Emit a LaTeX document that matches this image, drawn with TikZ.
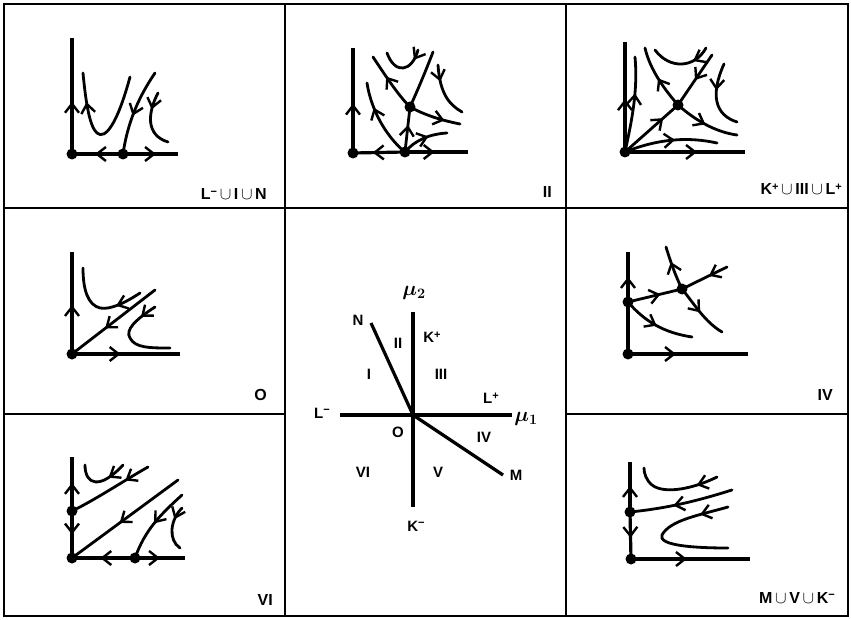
\documentclass[tikz,border=0pt]{standalone}
\usepackage{bm}
\usepackage{fontspec}
\setmainfont{Liberation Sans}
\usetikzlibrary{arrows.meta,decorations.markings}

\tikzset{
  frame/.style={line width=2pt},
  axis/.style={line width=3.2pt},
  flow/.style={line width=2.8pt, line cap=round},
  fix/.style={fill, circle, inner sep=0pt, minimum size=11pt},
  arr/.style={postaction={decorate, decoration={markings,
      mark=at position #1 with {\arrow{Straight Barb[length=9pt,width=14pt,line width=2.4pt]}}}}},
  tag/.style={font=\bfseries\fontsize{16}{16}\selectfont, anchor=base east, inner sep=0pt},
  lbl/.style={font=\bfseries\fontsize{15}{15}\selectfont, inner sep=0pt},
  greek/.style={font=\fontsize{20}{20}\selectfont, inner sep=0pt},
}
\newcommand{\cupp}{\,$\cup$\,}
\newcommand{\sgn}[1]{\raisebox{0.55ex}{\fontsize{11}{11}\selectfont\bfseries #1}}

\begin{document}
\begin{tikzpicture}[x=1pt, y=-1pt]
  \useasboundingbox (0,0) rectangle (851,620);
  \draw[frame] (4,4) rectangle (848,616);
  \draw[frame] (285,4) -- (285,616);
  \draw[frame] (566,4) -- (566,616);
  \draw[frame] (4,208) -- (848,208);
  \draw[frame] (4,414) -- (285,414);
  \draw[frame] (566,414) -- (848,414);

  % L- u I u N
  \node[fix] (a0) at (72,154) {};
  \node[fix] (a1) at (123,154) {};
  \draw[axis, arr=0.45] (a0.center) -- (72,38);
  \draw[axis, arr=0.55] (a1.center) -- (a0.center);
  \draw[axis, arr=0.6] (a1.center) -- (178,154);
  \draw[flow, arr=0.78] (130,77) .. controls (117,125) and (105,140) .. (97,133)
    .. controls (90,127) and (86,105) .. (83,73);
  \draw[flow, arr=0.55] (155,73) .. controls (140,95) and (128,120) .. (a1.center);
  \draw[flow, arr=0.3] (158,93) .. controls (148,112) and (145,135) .. (168,142);
  \node[tag] (t1) at (267,200) {L\sgn{−}\cupp I\cupp N};

  % II
  \node[fix] (b0) at (353,153) {};
  \node[fix] (b1) at (405,152) {};
  \node[fix] (b2) at (410,107) {};
  \draw[axis, arr=0.47] (b0.center) -- (353,48);
  \draw[axis, arr=0.62] (b1.center) -- (b0.center);
  \draw[axis, arr=0.47] (b1.center) -- (468,152);
  \draw[flow, arr=0.6] (b1.center) -- (b2.center);
  \draw[flow] (b2.center) .. controls (420,85) and (428,65) .. (433,52);
  \draw[flow, arr=0.62] (b2.center) .. controls (398,95) and (385,75) .. (373,57);
  \draw[flow, arr=0.7] (b2.center) .. controls (425,115) and (440,120) .. (460,124);
  \draw[flow, arr=0.22] (418,50) .. controls (412,72) and (395,75) .. (387,53);
  \draw[flow, arr=0.68] (b1.center) .. controls (390,140) and (372,115) .. (367,83);
  \draw[flow, arr=0.3] (438,65) .. controls (440,95) and (450,105) .. (462,112);
  \draw[flow, arr=0.6] (b1.center) .. controls (415,140) and (430,134) .. (447,133);
  \node[tag] (t2) at (552,198) {II};

  % K+ u III u L+
  \node[fix] (c0) at (625,152) {};
  \node[fix] (c1) at (678,105) {};
  \draw[axis, arr=0.48] (c0.center) -- (625,42);
  \draw[axis, arr=0.6] (c0.center) -- (745,152);
  \draw[flow, arr=0.72] (c0.center) -- (c1.center);
  \draw[flow, arr=0.5] (712,55) -- (c1.center);
  \draw[flow, arr=0.5] (c1.center) .. controls (665,90) and (650,70) .. (645,48);
  \draw[flow, arr=0.5] (c1.center) .. controls (695,120) and (715,132) .. (737,135);
  \draw[flow, arr=0.62] (c0.center) .. controls (632,120) and (638,90) .. (635,57);
  \draw[flow, arr=0.55] (c0.center) .. controls (660,138) and (690,137) .. (717,143);
  \draw[flow, arr=0.3] (706,48) .. controls (695,68) and (670,70) .. (655,50);
  \draw[flow, arr=0.4] (724,64) .. controls (710,95) and (715,115) .. (737,122);
  \node[tag] (t3) at (842,195) {K\sgn{+}\cupp III\cupp L\sgn{+}};

  % O
  \node[fix] (d0) at (72,354) {};
  \draw[axis, arr=0.48] (d0.center) -- (72,252);
  \draw[axis, arr=0.45] (d0.center) -- (180,354);
  \draw[flow, arr=0.6] (155,290) -- (d0.center);
  \draw[flow, arr=0.3] (140,293) .. controls (125,303) and (110,310) .. (100,308)
    .. controls (88,305) and (83,290) .. (83,268);
  \draw[flow, arr=0.2] (155,307) .. controls (135,320) and (125,330) .. (130,338)
    .. controls (135,348) and (150,348) .. (170,348);
  \node[tag] (t4) at (267,400) {O};

  % bifurcation diagram
  \coordinate (o) at (413,415);
  \draw[axis] (340,415) -- (512,415);
  \draw[axis] (413,312) -- (413,507);
  \draw[axis] (371,323) -- (o);
  \draw[axis] (o) -- (503,475);
  \node[greek] (mu2) at (414,293) {$\bm{\mu}_{\bm{2}}$};
  \node[greek] (mu1) at (526,419) {$\bm{\mu}_{\bm{1}}$};
  \node[lbl] (nN) at (358,320) {N};
  \node[lbl] (nII) at (398,343) {II};
  \node[lbl] (nKp) at (432,337) {K\sgn{+}};
  \node[lbl] (nI) at (369,374) {I};
  \node[lbl] (nIII) at (441,374) {III};
  \node[lbl] (nLp) at (491,398) {L\sgn{+}};
  \node[lbl] (nLm) at (322,413) {L\sgn{−}};
  \node[lbl] (nO) at (398,432) {O};
  \node[lbl] (nIV) at (484,437) {IV};
  \node[lbl] (nVI) at (363,472) {VI};
  \node[lbl] (nV) at (438,472) {V};
  \node[lbl] (nM) at (516,475) {M};
  \node[lbl] (nKm) at (416,526) {K\sgn{−}};

  % IV
  \node[fix] (f0) at (628,354) {};
  \node[fix] (f1) at (628,302) {};
  \node[fix] (f2) at (682,289) {};
  \draw[axis, arr=0.5] (f1.center) -- (628,252);
  \draw[axis] (f0.center) -- (f1.center);
  \draw[axis, arr=0.4] (f0.center) -- (748,354);
  \draw[flow, arr=0.6] (f1.center) -- (f2.center);
  \draw[flow, arr=0.4] (727,267) -- (f2.center);
  \draw[flow, arr=0.65] (f2.center) .. controls (675,275) and (670,260) .. (666,247);
  \draw[flow, arr=0.5] (f2.center) .. controls (695,305) and (705,322) .. (722,332);
  \draw[flow, arr=0.5] (f1.center) .. controls (645,322) and (665,333) .. (692,337);
  \node[tag] (t6) at (833,400) {IV};

  % VI
  \node[fix] (g0) at (72,558) {};
  \node[fix] (g1) at (72,511) {};
  \node[fix] (g2) at (135,558) {};
  \draw[axis, arr=0.52] (g1.center) -- (72,457);
  \draw[axis, arr=0.5] (g1.center) -- (g0.center);
  \draw[axis, arr=0.55] (g2.center) -- (g0.center);
  \draw[axis, arr=0.5] (g2.center) -- (185,558);
  \draw[flow, arr=0.3] (148,467) .. controls (125,480) and (95,500) .. (g1.center);
  \draw[flow, arr=0.55] (178,480) -- (g0.center);
  \draw[flow, arr=0.35] (123,465) .. controls (100,490) and (85,485) .. (85,465);
  \draw[flow, arr=0.5] (182,495) .. controls (160,515) and (145,530) .. (g2.center);
  \draw[flow, arr=0.3] (182,508) .. controls (170,520) and (168,540) .. (180,548);
  \node[tag] (t7) at (273,605) {VI};

  % M u V u K-
  \node[fix] (h0) at (631,559) {};
  \node[fix] (h1) at (630,512) {};
  \draw[axis, arr=0.52] (h1.center) -- (630,462);
  \draw[axis, arr=0.55] (h1.center) -- (h0.center);
  \draw[axis, arr=0.47] (h0.center) -- (750,559);
  \draw[flow, arr=0.58] (732,490) .. controls (700,500) and (670,508) .. (h1.center);
  \draw[flow, arr=0.25] (717,477) .. controls (695,488) and (665,495) .. (652,485)
    .. controls (646,480) and (644,473) .. (644,468);
  \draw[flow, arr=0.2] (728,507) .. controls (700,515) and (670,520) .. (662,535)
    .. controls (658,545) and (690,548) .. (728,548);
  \node[tag] (t9) at (835,603) {M\cupp V\cupp K\sgn{−}};
\end{tikzpicture}
\end{document}
